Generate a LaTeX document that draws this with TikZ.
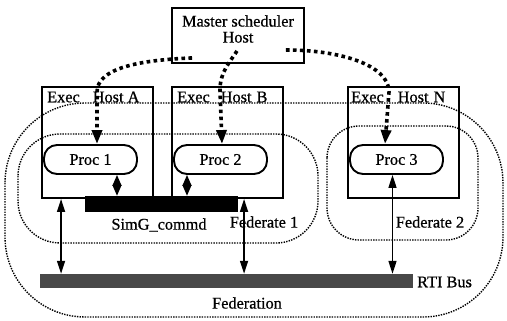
\documentclass[tikz,border=0pt]{standalone}
\usepackage{fontspec}
\setmainfont{Liberation Serif}[RawFeature={embolden=0.7}]
\usetikzlibrary{arrows.meta}
\begin{document}
\begin{tikzpicture}[x=1pt,y=-1pt,
  font=\fontsize{16.3}{17}\selectfont,
  hostbox/.style={draw,line width=1.9pt,inner sep=0pt,minimum width=111pt,minimum height=111pt},
  procbox/.style={draw,line width=1.9pt,rounded corners=13pt,inner sep=0pt,minimum width=93pt,minimum height=29pt},
  masterbox/.style={draw,line width=1.9pt,inner sep=0pt,minimum width=132pt,minimum height=55pt},
  bar/.style={fill=black,inner sep=0pt},
  busbar/.style={fill={rgb,255:red,72;green,72;blue,72},inner sep=0pt},
  thindot/.style={line width=1.4pt,dash pattern=on 1.4pt off 1.2pt},
  schedarrow/.style={line width=3.6pt,dash pattern=on 3.6pt off 3.4pt,-{Triangle[length=14pt,width=10pt]}},
  dblarrow/.style={line width=1.5pt,{Triangle[length=13pt,width=8pt]}-{Triangle[length=13pt,width=8pt]}},
  shortarrow/.style={line width=1.5pt,{Triangle[length=11pt,width=9pt]}-{Triangle[length=11pt,width=9pt]}},
  txt/.style={inner sep=0pt}
]
\useasboundingbox (0,0) rectangle (507,321);

% groupings: federation and the two federates
\draw[thindot,rounded corners=80pt] (5,103) rectangle (503,317);
\draw[thindot,rounded corners=42pt] (18,134) rectangle (318,243);
\draw[thindot,rounded corners=32pt] (327,126) rectangle (478,240);

% master scheduler
\node[masterbox] (master) at (238,35.5) {};
\node[txt,align=center] (mastertxt) at (238,29) {Master scheduler\\[-1pt]Host};

% execution hosts
\node[hostbox] (hostA) at (97.5,142.5) {};
\node[hostbox] (hostB) at (227.5,142.5) {};
\node[hostbox] (hostN) at (403.5,142.5) {};
\node[txt,anchor=west] (labA) at (47,97) {Exec\hspace{13pt}Host A};
\node[txt,anchor=west] (labB) at (177,97) {Exec\hspace{11pt}Host\hspace{5pt}B};
\node[txt,anchor=west] (labN) at (351,97) {Exec\hspace{14pt}Host\hspace{5pt}N};

% processes
\node[procbox] (proc1) at (90.5,159.5) {Proc 1};
\node[procbox] (proc2) at (220.5,159.5) {Proc 2};
\node[procbox] (proc3) at (396.5,159.5) {Proc 3};

% command bus and RTI bus
\node[bar,minimum width=153pt,minimum height=16pt] (simg) at (161.5,204) {};
\node[busbar,minimum width=373pt,minimum height=14pt] (rti) at (226.5,281) {};

% labels
\node[txt] (simglbl) at (159,225) {SimG\_commd};
\node[txt] (fed1) at (264,222) {Federate 1};
\node[txt] (fed2) at (430,222) {Federate 2};
\node[txt,anchor=west] (rtilbl) at (417,282) {RTI Bus};
\node[txt] (fedn) at (247,303) {Federation};

% scheduler links
\draw[schedarrow] ([shift={(21,-6)}]master.south west) .. controls (140,60) and (97,68) .. (97,92) -- ([xshift=6.5pt]proc1.north);
\draw[schedarrow] ([shift={(-1,-13)}]master.south) .. controls (230,62) and (220,72) .. (220,90) -- ([xshift=1.5pt]proc2.north);
\draw[schedarrow] ([shift={(-19,-14)}]master.south east) .. controls (340,50) and (389,65) .. (389,92) -- ([xshift=-11.5pt]proc3.north);

% process to command bus
\draw[shortarrow] ([xshift=26.5pt]proc1.south) -- ([xshift=26.5pt]proc1.south |- simg.north);
\draw[shortarrow] ([xshift=-33.5pt]proc2.south) -- ([xshift=-33.5pt]proc2.south |- simg.north);

% hosts to RTI bus
\draw[dblarrow] ([xshift=20pt]hostA.south west) -- ([xshift=20pt]hostA.south west |- rti.north);
\draw[dblarrow] ([xshift=73pt]hostB.south west) -- ([xshift=73pt]hostB.south west |- rti.north);
\draw[dblarrow] ([xshift=-4pt]proc3.south) -- ([xshift=-4pt]proc3.south |- rti.north);
\end{tikzpicture}
\end{document}
